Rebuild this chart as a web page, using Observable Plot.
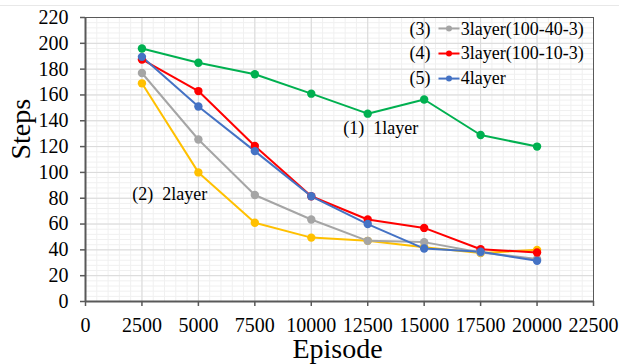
<!DOCTYPE html>
<html>
<head>
<meta charset="utf-8">
<script src="https://cdn.jsdelivr.net/npm/d3@7"></script>
<script src="https://cdn.jsdelivr.net/npm/@observablehq/plot@0.6"></script>
<style>
  html, body { margin: 0; padding: 0; background: #fff; }
  #wrap { position: relative; width: 619px; height: 364px; overflow: hidden; }
  #topline { position: absolute; left: 0; top: 5px; width: 619px; height: 1px; background: #e8e8e8; }
  #chart svg, #chart svg text { font-family: "Liberation Serif", "Times New Roman", serif !important; }
</style>
</head>
<body>
<div id="wrap"><div id="topline"></div><div id="chart"></div></div>
<script>
// ---- data ----
const episodes = [2500, 5000, 7500, 10000, 12500, 15000, 17500, 20000];
const seriesNames = ["2layer", "3layer(100-40-3)", "3layer(100-10-3)", "4layer", "1layer"];
const seriesColors = ["#ffc000", "#a5a5a5", "#ff0000", "#4472c4", "#00b050"];
const layer2  = [169, 100, 61, 49.5, 47, 42, 37.5, 40];
const layer3a = [177, 125.5, 82.5, 63.5, 47, 46, 38, 33];
const layer3b = [187.5, 163, 120.5, 81.5, 63.5, 57, 40.5, 38];
const layer4  = [189.5, 151, 116.5, 81.5, 60, 41, 38.5, 31.5];
const layer1  = [196, 185, 176, 161, 145.5, 156.5, 129, 120];
const seriesValues = [layer2, layer3a, layer3b, layer4, layer1];
const xTicks = [0, 2500, 5000, 7500, 10000, 12500, 15000, 17500, 20000, 22500];
const yTicks = [0, 20, 40, 60, 80, 100, 120, 140, 160, 180, 200, 220];
const legendPrefixes = ["(3)", "(4)", "(5)"];
const legendSeries = ["3layer(100-40-3)", "3layer(100-10-3)", "4layer"];
const annotationTexts = ["(1)\u00a0\u00a01layer", "(2)\u00a0\u00a02layer"];

// ---- table ----
const rows = [];
seriesNames.forEach((s, i) => episodes.forEach((e, j) => rows.push({series: s, episode: e, steps: seriesValues[i][j]})));

// ---- layout (annotation placement in data units) ----
const annot = [
  {text: annotationTexts[0], x: 11414, y: 129.4},
  {text: annotationTexts[1], x: 2068, y: 79}
];
const legendRowsY = [206.8, 187.5, 168.1];
const legendSwatchY = [211.5, 192.1, 172.7];
const legend = legendSeries.map((s, i) => ({
  prefix: legendPrefixes[i], series: s, color: seriesColors[seriesNames.indexOf(s)],
  ty: legendRowsY[i], sy: legendSwatchY[i]
}));

const minorX = d3.range(0, 22501, 500);
const minorY = d3.range(0, 221, 4);
const serif = "Liberation Serif, serif";

const chart = Plot.plot({
  width: 619,
  height: 364,
  marginLeft: 85,
  marginRight: 26,
  marginTop: 17,
  marginBottom: 63,
  style: {fontFamily: serif, fontSize: "20px", color: "#000", background: "transparent", overflow: "visible"},
  x: {domain: [0, 22500]},
  y: {domain: [0, 220]},
  color: {domain: seriesNames, range: seriesColors},
  marks: [
    Plot.ruleX(minorX, {stroke: "#f0f0f0", strokeWidth: 1}),
    Plot.ruleY(minorY, {stroke: "#f0f0f0", strokeWidth: 1}),
    Plot.ruleX(xTicks, {stroke: "#d9d9d9", strokeWidth: 1}),
    Plot.ruleY(yTicks, {stroke: "#d9d9d9", strokeWidth: 1}),
    Plot.frame({stroke: "#595959", strokeWidth: 1}),
    Plot.ruleX([0], {stroke: "#595959", strokeWidth: 2}),
    Plot.ruleY([0], {stroke: "#595959", strokeWidth: 2}),
    Plot.axisY({ticks: yTicks, tickSize: 5, tickPadding: 12, tickFormat: d => String(d), label: null, stroke: "#595959", strokeWidth: 1.5, fill: "#000", fontSize: 20}),
    Plot.axisX({ticks: xTicks, tickSize: 5, tickPadding: 11, tickFormat: d => String(d), label: null, stroke: "#595959", strokeWidth: 1.5, fill: "#000", fontSize: 20}),
    Plot.line(rows, {x: "episode", y: "steps", z: "series", stroke: "series", strokeWidth: 2}),
    Plot.dot(rows, {x: "episode", y: "steps", fill: "series", r: 4.2, stroke: "none"}),
    Plot.text(annot, {x: "x", y: "y", text: "text", textAnchor: "start", lineAnchor: "bottom", fontSize: 18, fill: "#000"}),
    Plot.text(legend, {x: 14350, y: "ty", text: "prefix", textAnchor: "start", lineAnchor: "bottom", fontSize: 18, fill: "#000"}),
    Plot.link(legend, {x1: 15634, x2: 16565, y1: "sy", y2: "sy", stroke: "color", strokeWidth: 2}),
    Plot.dot(legend, {x: 16100, y: "sy", fill: "color", r: 3, stroke: "none"}),
    Plot.text(legend, {x: 16620, y: "ty", text: "series", textAnchor: "start", lineAnchor: "bottom", fontSize: 18, fill: "#000"}),
    Plot.text(["Steps"], {frameAnchor: "left", dx: -64, rotate: -90, fontSize: 28, fill: "#000"}),
    Plot.text(["Episode"], {frameAnchor: "bottom", lineAnchor: "bottom", dy: 56, dx: -2, fontSize: 28, fill: "#000"})
  ]
});
document.getElementById("chart").appendChild(chart);
</script>
</body>
</html>
